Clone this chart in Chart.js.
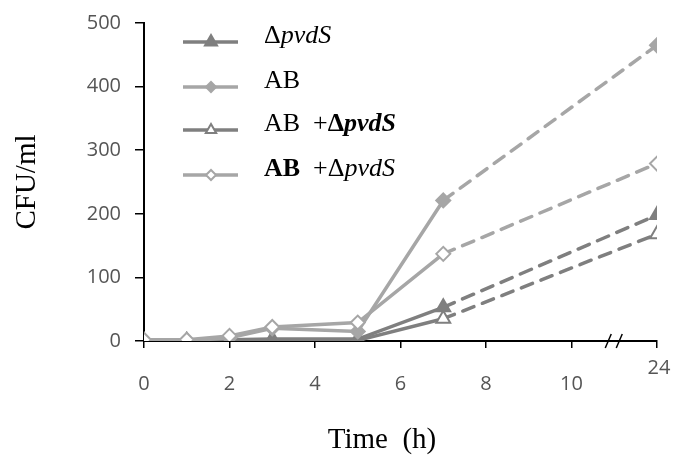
<!DOCTYPE html>
<html>
<head>
<meta charset="utf-8">
<script src="https://cdn.jsdelivr.net/npm/chart.js@4"></script>
<style>
  html, body { margin: 0; padding: 0; background: #fff; }
  #wrap { position: relative; width: 673px; height: 459px; }
</style>
</head>
<body>
<div id="wrap"><canvas id="cfuChart" width="673" height="459"></canvas></div>
<script>
// Time points (24 h is drawn at position 12 because of the axis break)
const timePos = [0, 1, 2, 3, 5, 7, 12];
const xTickLabels = { 0: '0', 2: '2', 4: '4', 6: '6', 8: '8', 10: '10', 12: '24' };

// CFU/ml values
const pvdS      = [0, 0, 2, 3, 3, 53, 198];
const ab        = [0, 0, 5, 20, 15, 221, 465];
const abPlusPvd = [0, 0, 1, 1, 1, 35, 168];
const abBoldPvd = [2, 2, 8, 22, 29, 137, 279];

const DARK = '#7f7f7f';
const LIGHT = '#a6a6a6';
const serif = '"Liberation Serif", "Times New Roman", serif';
const tickFont = { family: '"Open Sans", sans-serif', size: 20 };

function toPoints(values) {
    return values.map((v, i) => ({ x: timePos[i], y: v }));
}

// the last segment (7 h -> 24 h) is dashed
const dashLast = { borderDash: ctx => ctx.p1DataIndex === timePos.length - 1 ? [12, 9] : undefined };

function series(values, color, style, filled, radius, order) {
    return {
        data: toPoints(values),
        borderColor: color,
        borderWidth: 3.5,
        borderCapStyle: 'round',
        pointStyle: style,
        pointRadius: radius,
        pointBackgroundColor: filled ? color : '#ffffff',
        pointBorderColor: color,
        pointBorderWidth: 2,
        order: order,
        segment: dashLast
    };
}

// legend rows: runs of [text, bold, italic]
const legendRows = [
    { color: DARK, style: 'triangle', filled: true, r: 7, runs: [['\u0394', false, false], ['pvdS', false, true]] },
    { color: LIGHT, style: 'rectRot', filled: true, r: 5, runs: [['AB', false, false]] },
    { color: DARK, style: 'triangle', filled: false, r: 6, runs: [['AB  +', false, false], ['\u0394', true, false], ['pvdS', true, true]] },
    { color: LIGHT, style: 'rectRot', filled: false, r: 5, runs: [['AB', true, false], ['  +\u0394', false, false], ['pvdS', false, true]] }
];
const legendY = [42, 87, 130, 175];

const extrasPlugin = {
    id: 'extras',
    afterDraw(chart) {
        const ctx = chart.ctx;
        const area = chart.chartArea;
        const xs = chart.scales.x;
        ctx.save();

        // axis break marks near the end of the x axis
        ctx.strokeStyle = '#000';
        ctx.lineWidth = 1.5;
        const bx = xs.getPixelForValue(11);
        [-6, 5].forEach(dx => {
            ctx.beginPath();
            ctx.moveTo(bx + dx - 3, area.bottom + 7);
            ctx.lineTo(bx + dx + 3, area.bottom - 7);
            ctx.stroke();
        });

        // the "24" label sits a bit higher than the others
        ctx.fillStyle = '#555555';
        ctx.font = tickFont.size + 'px ' + tickFont.family;
        ctx.textAlign = 'center';
        ctx.textBaseline = 'middle';
        ctx.fillText(xTickLabels[12], xs.getPixelForValue(12) + 2, area.bottom + 27);

        // axis titles
        ctx.fillStyle = '#000';
        ctx.font = '29px ' + serif;
        ctx.fillText('Time  (h)', 382, 440);
        ctx.save();
        ctx.translate(27, (area.top + area.bottom) / 2);
        ctx.rotate(-Math.PI / 2);
        ctx.fillText('CFU/ml', 0, 0);
        ctx.restore();

        // legend
        legendRows.forEach((row, i) => {
            const y = legendY[i];
            ctx.strokeStyle = row.color;
            ctx.lineWidth = 3.5;
            ctx.beginPath();
            ctx.moveTo(183, y);
            ctx.lineTo(238, y);
            ctx.stroke();
            ctx.fillStyle = row.filled ? row.color : '#fff';
            ctx.lineWidth = 2;
            Chart.helpers.drawPoint(ctx, { pointStyle: row.style, radius: row.r, borderWidth: 2 }, 211, y);
            ctx.fillStyle = '#000';
            ctx.textAlign = 'left';
            ctx.textBaseline = 'alphabetic';
            let x = 264;
            row.runs.forEach(([text, bold, italic]) => {
                ctx.font = (italic ? 'italic ' : '') + (bold ? 'bold ' : '') + '26px ' + serif;
                ctx.fillText(text, x, y + 1);
                x += ctx.measureText(text).width;
            });
        });
        ctx.restore();
    }
};

new Chart(document.getElementById('cfuChart'), {
    type: 'line',
    data: {
        datasets: [
            series(pvdS, DARK, 'triangle', true, 8, 2),
            series(ab, LIGHT, 'rectRot', true, 7, 1),
            series(abPlusPvd, DARK, 'triangle', false, 8, 3),
            series(abBoldPvd, LIGHT, 'rectRot', false, 7, 0)
        ]
    },
    options: {
        responsive: false,
        animation: false,
        layout: { padding: { top: 23, right: 16, left: 0, bottom: 0 } },
        plugins: { legend: { display: false }, tooltip: { enabled: false } },
        scales: {
            x: {
                type: 'linear',
                min: 0,
                max: 12,
                afterFit: scale => {
                    scale.height = 118;
                    scale.paddingLeft = 0;
                    scale.paddingRight = 0;
                },
                afterBuildTicks: scale => {
                    scale.ticks = Object.keys(xTickLabels).map(v => ({ value: Number(v) }));
                },
                ticks: {
                    // 24 is drawn by the plugin
                    callback: v => (v === 12 ? '' : xTickLabels[v]),
                    color: '#555555',
                    font: tickFont,
                    padding: 24,
                    maxRotation: 0
                },
                grid: { drawOnChartArea: false, color: '#000', tickLength: 7, lineWidth: 1.5 },
                border: { color: '#000', width: 2 }
            },
            y: {
                min: 0,
                max: 500,
                afterFit: scale => {
                    scale.width = 144;
                    scale.paddingTop = 0;
                    scale.paddingBottom = 0;
                },
                ticks: {
                    stepSize: 100,
                    color: '#555555',
                    font: tickFont,
                    padding: 14
                },
                grid: { drawOnChartArea: false, color: '#000', tickLength: 9, lineWidth: 1.5 },
                border: { color: '#000', width: 2 }
            }
        }
    },
    plugins: [extrasPlugin]
});
</script>
</body>
</html>
